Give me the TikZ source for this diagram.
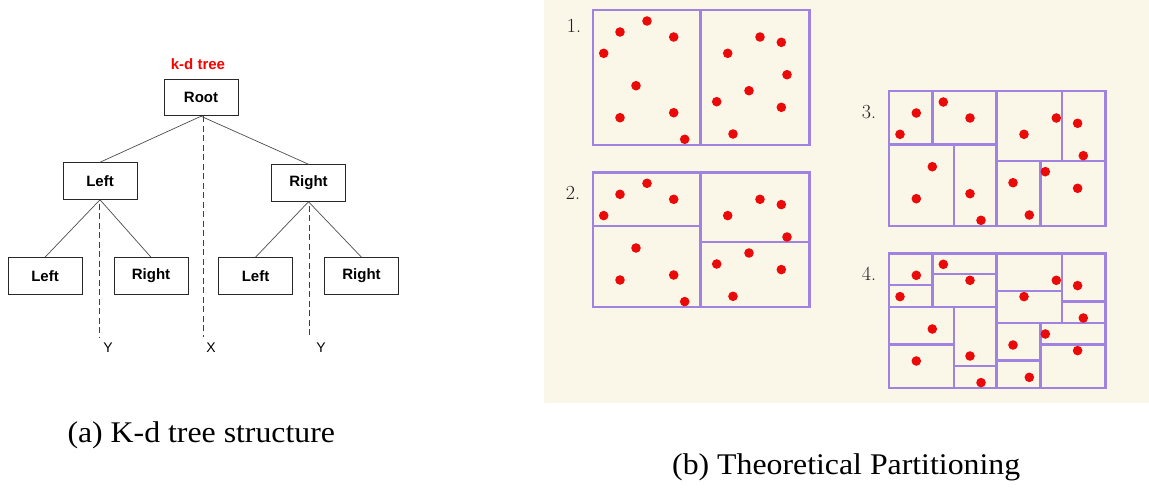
\documentclass[tikz,border=0pt]{standalone}
\usepackage{fontspec}
\newfontfamily\capfont{Liberation Serif}
\newfontfamily\treefont{Liberation Sans}
\definecolor{panelbg}{RGB}{250,247,233}
\definecolor{partline}{RGB}{160,130,225}
\definecolor{dotred}{RGB}{235,10,10}
\definecolor{boxline}{RGB}{40,40,40}
\definecolor{numgray}{RGB}{30,30,30}
\newcommand\kddots{%
  \foreach \px/\py in {54.3/11, 27.3/22, 81/27, 11/43.3, 43.3/75.7, 27.3/107.7, 81/102.7, 92/129.3,
    167.3/27, 188.6/32.3, 135/43.3, 194.3/64.7, 156.3/80.7, 124/91.7, 188.6/97.3, 140.3/124}
  {\fill[dotred] (\px,\py) circle[radius=4.8];}}
\newcommand\kdlevelone{\draw[part] (107.6,0) -- (107.6,134.7);}
\newcommand\kdleveltwo{\draw[part] (0,53.4) -- (107.6,53.4) (107.6,69.7) -- (216.6,69.7);}
\newcommand\kdlevelthree{\draw[part] (43.3,0) -- (43.3,53.4) (65,53.4) -- (65,134.7)
  (172.7,0) -- (172.7,69.7) (151.3,69.7) -- (151.3,134.7);}
\newcommand\kdlevelfour{\draw[part] (0,31.7) -- (43.3,31.7) (43.3,20.7) -- (107.6,20.7)
  (0,91) -- (65,91) (65,112.7) -- (107.6,112.7) (107.6,37.7) -- (172.7,37.7)
  (172.7,48.3) -- (216.6,48.3) (107.6,107.3) -- (151.3,107.3) (151.3,91) -- (216.6,91);}
\newcommand\kdframe{\draw[part] (0,0) rectangle (216.6,134.7);}
\begin{document}
\begin{tikzpicture}[x=1pt,y=-1pt,
  treebox/.style={draw=boxline, line width=1pt, minimum width=74pt, minimum height=36.5pt, inner sep=0pt,
    font=\treefont\bfseries\fontsize{15}{18}\selectfont},
  treetitle/.style={font=\treefont\bfseries\fontsize{15}{18}\selectfont, text=red, inner sep=0pt},
  edge/.style={draw=gray!60!black, line width=0.7pt},
  split/.style={draw=gray!50!black, line width=1pt, dash pattern=on 6pt off 3.5pt},
  axislabel/.style={font=\treefont\fontsize{14}{16}\selectfont, inner sep=0pt},
  part/.style={draw=partline, line width=2.4pt, line cap=rect, line join=miter},
  numlabel/.style={font=\fontsize{20}{24}\selectfont, text=numgray, inner sep=0pt, anchor=base west},
  caption/.style={font=\capfont\fontsize{30}{34}\selectfont, inner sep=0pt, anchor=base west}]
\useasboundingbox (0,0) rectangle (1149,490);
\fill[panelbg] (544,0) rectangle (1149,403.3);
% tree
\node[treetitle] (title) at (198,64) {k-d tree};
\node[treebox] (root) at (201,97.5) {Root};
\node[treebox] (l) at (100,181) {Left};
\node[treebox] (r) at (308.5,183) {Right};
\node[treebox] (ll) at (45,276) {Left};
\node[treebox] (lr) at (151,276) {Right};
\node[treebox] (rl) at (255.5,276) {Left};
\node[treebox] (rr) at (361.5,276) {Right};
\draw[edge] (root.south) -- (l.north);
\draw[edge] (root.south) -- (r.north);
\draw[edge] (l.south) -- (ll.north);
\draw[edge] (l.south) -- (lr.north);
\draw[edge] (r.south) -- (rl.north);
\draw[edge] (r.south) -- (rr.north);
\coordinate (xend) at (203,337);
\coordinate (yoneend) at (99,337);
\coordinate (ytwoend) at (309,337);
\draw[split] (root.south -| xend) -- (xend);
\draw[split] ([yshift=-4pt]l.south -| yoneend) -- (yoneend);
\draw[split] ([yshift=-4pt]r.south -| ytwoend) -- (ytwoend);
\node[axislabel] (xlab) at (211,348) {X};
\node[axislabel] (yonelab) at (108,348) {Y};
\node[axislabel] (ytwolab) at (321,348) {Y};
% partitions
\begin{scope}[shift={(592.7,10)}]
  \kdlevelone \kdframe \kddots
\end{scope}
\begin{scope}[shift={(592.7,172.3)}]
  \kdlevelone \kdleveltwo \kdframe \kddots
\end{scope}
\begin{scope}[shift={(889,91)}]
  \kdlevelone \kdleveltwo \kdlevelthree \kdframe \kddots
\end{scope}
\begin{scope}[shift={(889,253.3)}]
  \kdlevelone \kdleveltwo \kdlevelthree \kdlevelfour \kdframe \kddots
\end{scope}
\node[numlabel] (n1) at (566.7,32.3) {1.};
\node[numlabel] (n2) at (565.7,199) {2.};
\node[numlabel] (n3) at (861.7,118.3) {3.};
\node[numlabel] (n4) at (861.7,280) {4.};
% captions
\node[caption] (capa) at (67.3,442) {\scalebox{1.06}[1]{(a) K-d tree structure}};
\node[caption] (capb) at (672,474) {\scalebox{1.06}[1]{(b) Theoretical Partitioning}};
\end{tikzpicture}
\end{document}
